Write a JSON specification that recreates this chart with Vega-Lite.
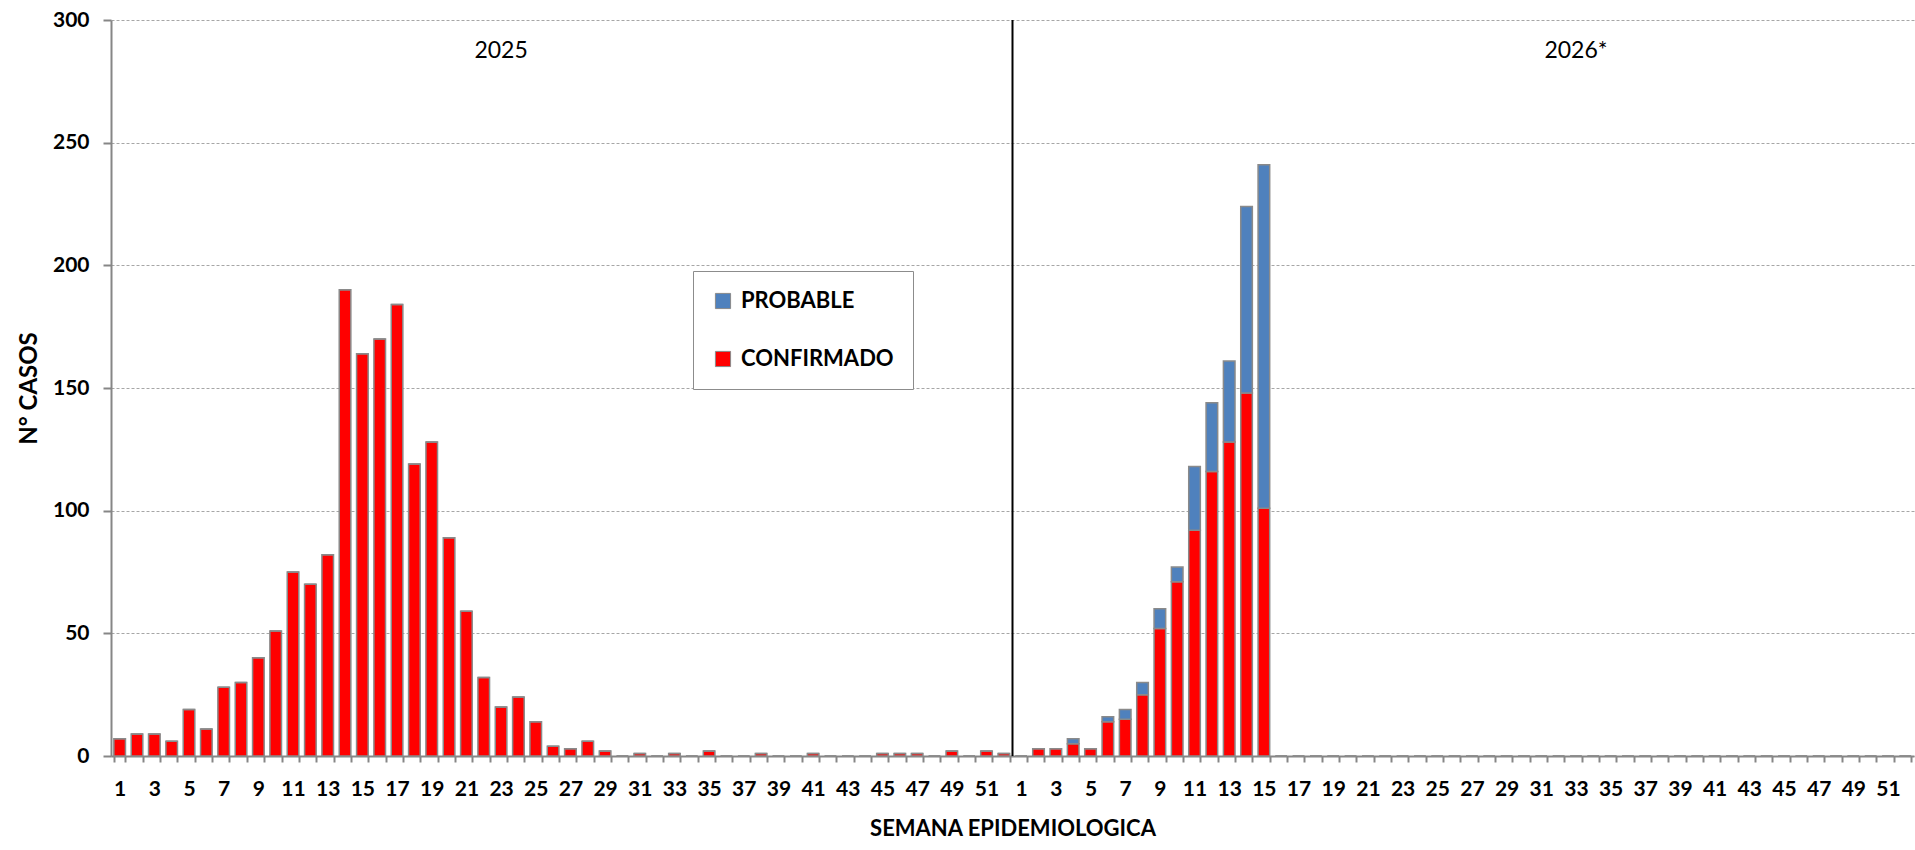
{
  "$schema": "https://vega.github.io/schema/vega-lite/v6.json",
  "width": 1803,
  "height": 736,
  "autosize": "none",
  "padding": {"left": 111, "top": 20, "right": 1, "bottom": 94},
  "background": "white",
  "config": {
    "view": {"stroke": null},
    "font": "Lato"
  },
  "datasets": {
    "semanas": [
      {"idx":1,"CONFIRMADO":7,"PROBABLE":0},{"idx":2,"CONFIRMADO":9,"PROBABLE":0},{"idx":3,"CONFIRMADO":9,"PROBABLE":0},{"idx":4,"CONFIRMADO":6,"PROBABLE":0},
      {"idx":5,"CONFIRMADO":19,"PROBABLE":0},{"idx":6,"CONFIRMADO":11,"PROBABLE":0},{"idx":7,"CONFIRMADO":28,"PROBABLE":0},{"idx":8,"CONFIRMADO":30,"PROBABLE":0},
      {"idx":9,"CONFIRMADO":40,"PROBABLE":0},{"idx":10,"CONFIRMADO":51,"PROBABLE":0},{"idx":11,"CONFIRMADO":75,"PROBABLE":0},{"idx":12,"CONFIRMADO":70,"PROBABLE":0},
      {"idx":13,"CONFIRMADO":82,"PROBABLE":0},{"idx":14,"CONFIRMADO":190,"PROBABLE":0},{"idx":15,"CONFIRMADO":164,"PROBABLE":0},{"idx":16,"CONFIRMADO":170,"PROBABLE":0},
      {"idx":17,"CONFIRMADO":184,"PROBABLE":0},{"idx":18,"CONFIRMADO":119,"PROBABLE":0},{"idx":19,"CONFIRMADO":128,"PROBABLE":0},{"idx":20,"CONFIRMADO":89,"PROBABLE":0},
      {"idx":21,"CONFIRMADO":59,"PROBABLE":0},{"idx":22,"CONFIRMADO":32,"PROBABLE":0},{"idx":23,"CONFIRMADO":20,"PROBABLE":0},{"idx":24,"CONFIRMADO":24,"PROBABLE":0},
      {"idx":25,"CONFIRMADO":14,"PROBABLE":0},{"idx":26,"CONFIRMADO":4,"PROBABLE":0},{"idx":27,"CONFIRMADO":3,"PROBABLE":0},{"idx":28,"CONFIRMADO":6,"PROBABLE":0},
      {"idx":29,"CONFIRMADO":2,"PROBABLE":0},{"idx":30,"CONFIRMADO":0,"PROBABLE":0},{"idx":31,"CONFIRMADO":1,"PROBABLE":0},{"idx":32,"CONFIRMADO":0,"PROBABLE":0},
      {"idx":33,"CONFIRMADO":1,"PROBABLE":0},{"idx":34,"CONFIRMADO":0,"PROBABLE":0},{"idx":35,"CONFIRMADO":2,"PROBABLE":0},{"idx":36,"CONFIRMADO":0,"PROBABLE":0},
      {"idx":37,"CONFIRMADO":0,"PROBABLE":0},{"idx":38,"CONFIRMADO":1,"PROBABLE":0},{"idx":39,"CONFIRMADO":0,"PROBABLE":0},{"idx":40,"CONFIRMADO":0,"PROBABLE":0},
      {"idx":41,"CONFIRMADO":1,"PROBABLE":0},{"idx":42,"CONFIRMADO":0,"PROBABLE":0},{"idx":43,"CONFIRMADO":0,"PROBABLE":0},{"idx":44,"CONFIRMADO":0,"PROBABLE":0},
      {"idx":45,"CONFIRMADO":1,"PROBABLE":0},{"idx":46,"CONFIRMADO":1,"PROBABLE":0},{"idx":47,"CONFIRMADO":1,"PROBABLE":0},{"idx":48,"CONFIRMADO":0,"PROBABLE":0},
      {"idx":49,"CONFIRMADO":2,"PROBABLE":0},{"idx":50,"CONFIRMADO":0,"PROBABLE":0},{"idx":51,"CONFIRMADO":2,"PROBABLE":0},{"idx":52,"CONFIRMADO":1,"PROBABLE":0},
      {"idx":53,"CONFIRMADO":0,"PROBABLE":0},{"idx":54,"CONFIRMADO":3,"PROBABLE":0},{"idx":55,"CONFIRMADO":3,"PROBABLE":0},{"idx":56,"CONFIRMADO":5,"PROBABLE":2},
      {"idx":57,"CONFIRMADO":3,"PROBABLE":0},{"idx":58,"CONFIRMADO":14,"PROBABLE":2},{"idx":59,"CONFIRMADO":15,"PROBABLE":4},{"idx":60,"CONFIRMADO":25,"PROBABLE":5},
      {"idx":61,"CONFIRMADO":52,"PROBABLE":8},{"idx":62,"CONFIRMADO":71,"PROBABLE":6},{"idx":63,"CONFIRMADO":92,"PROBABLE":26},{"idx":64,"CONFIRMADO":116,"PROBABLE":28},
      {"idx":65,"CONFIRMADO":128,"PROBABLE":33},{"idx":66,"CONFIRMADO":148,"PROBABLE":76},{"idx":67,"CONFIRMADO":101,"PROBABLE":140},{"idx":68,"CONFIRMADO":0,"PROBABLE":0},
      {"idx":69,"CONFIRMADO":0,"PROBABLE":0},{"idx":70,"CONFIRMADO":0,"PROBABLE":0},{"idx":71,"CONFIRMADO":0,"PROBABLE":0},{"idx":72,"CONFIRMADO":0,"PROBABLE":0},
      {"idx":73,"CONFIRMADO":0,"PROBABLE":0},{"idx":74,"CONFIRMADO":0,"PROBABLE":0},{"idx":75,"CONFIRMADO":0,"PROBABLE":0},{"idx":76,"CONFIRMADO":0,"PROBABLE":0},
      {"idx":77,"CONFIRMADO":0,"PROBABLE":0},{"idx":78,"CONFIRMADO":0,"PROBABLE":0},{"idx":79,"CONFIRMADO":0,"PROBABLE":0},{"idx":80,"CONFIRMADO":0,"PROBABLE":0},
      {"idx":81,"CONFIRMADO":0,"PROBABLE":0},{"idx":82,"CONFIRMADO":0,"PROBABLE":0},{"idx":83,"CONFIRMADO":0,"PROBABLE":0},{"idx":84,"CONFIRMADO":0,"PROBABLE":0},
      {"idx":85,"CONFIRMADO":0,"PROBABLE":0},{"idx":86,"CONFIRMADO":0,"PROBABLE":0},{"idx":87,"CONFIRMADO":0,"PROBABLE":0},{"idx":88,"CONFIRMADO":0,"PROBABLE":0},
      {"idx":89,"CONFIRMADO":0,"PROBABLE":0},{"idx":90,"CONFIRMADO":0,"PROBABLE":0},{"idx":91,"CONFIRMADO":0,"PROBABLE":0},{"idx":92,"CONFIRMADO":0,"PROBABLE":0},
      {"idx":93,"CONFIRMADO":0,"PROBABLE":0},{"idx":94,"CONFIRMADO":0,"PROBABLE":0},{"idx":95,"CONFIRMADO":0,"PROBABLE":0},{"idx":96,"CONFIRMADO":0,"PROBABLE":0},
      {"idx":97,"CONFIRMADO":0,"PROBABLE":0},{"idx":98,"CONFIRMADO":0,"PROBABLE":0},{"idx":99,"CONFIRMADO":0,"PROBABLE":0},{"idx":100,"CONFIRMADO":0,"PROBABLE":0},
      {"idx":101,"CONFIRMADO":0,"PROBABLE":0},{"idx":102,"CONFIRMADO":0,"PROBABLE":0},{"idx":103,"CONFIRMADO":0,"PROBABLE":0},{"idx":104,"CONFIRMADO":0,"PROBABLE":0}
    ]
  },
  "layer": [
    {
      "data": {"name": "semanas"},
      "transform": [{"fold": ["CONFIRMADO", "PROBABLE"], "as": ["tipo", "casos"]}],
      "mark": {"type": "bar", "stroke": "#8a8a8a", "strokeWidth": 1.5},
      "encoding": {
        "x": {
          "field": "idx", "type": "ordinal", "sort": "ascending",
          "scale": {"paddingInner": 0.33, "paddingOuter": 0.165},
          "axis": {
            "title": "SEMANA EPIDEMIOLOGICA",
            "titleFont": "Lato", "titleFontSize": 22, "titleFontWeight": "bold", "titleColor": "#000000",
            "titlePadding": 19,
            "labelExpr": "datum.value % 2 == 1 ? (datum.value > 52 ? datum.value - 52 : datum.value) : ''",
            "labelAngle": 0, "labelOverlap": false,
            "labelFont": "Lato", "labelFontSize": 21, "labelFontWeight": "bold", "labelColor": "#000000",
            "labelPadding": 16,
            "tickBand": "extent", "tickSize": 6, "tickColor": "#868686", "tickWidth": 2,
            "domainColor": "#868686", "domainWidth": 2
          }
        },
        "y": {
          "field": "casos", "type": "quantitative", "stack": "zero",
          "scale": {"domain": [0, 300], "nice": false},
          "axis": {
            "title": "N° CASOS",
            "titleFont": "Lato", "titleFontSize": 24, "titleFontWeight": "bold", "titleColor": "#000000",
            "titlePadding": 11,
            "values": [0, 50, 100, 150, 200, 250, 300],
            "labelFont": "Lato", "labelFontSize": 21, "labelFontWeight": "bold", "labelColor": "#000000",
            "labelPadding": 14,
            "tickSize": 8, "tickColor": "#868686", "tickWidth": 2,
            "domainColor": "#868686", "domainWidth": 2,
            "grid": true, "gridColor": "#a6a6a6", "gridDash": [3, 2], "gridWidth": 1
          }
        },
        "color": {
          "field": "tipo", "type": "nominal",
          "scale": {"domain": ["PROBABLE", "CONFIRMADO"], "range": ["#4F81BD", "#FF0000"]},
          "legend": {
            "title": null, "orient": "none", "legendX": 582, "legendY": 251,
            "fillColor": "#ffffff", "strokeColor": "#8c8c8c",
            "padding": 19, "rowPadding": 36,
            "symbolType": "square", "symbolSize": 230, "symbolStrokeColor": "#8a8a8a", "symbolStrokeWidth": 1,
            "labelFont": "Lato", "labelFontSize": 22, "labelFontWeight": "bold", "labelColor": "#000000",
            "labelOffset": 7
          }
        },
        "order": {"field": "tipo", "sort": "ascending"}
      }
    },
    {
      "data": {"values": [{"idx": 52}]},
      "mark": {"type": "rule", "color": "#000000", "strokeWidth": 2},
      "encoding": {
        "x": {"field": "idx", "type": "ordinal", "bandPosition": 1.246}
      }
    },
    {
      "data": {"values": [{"anio": "2025", "idx": 23}, {"anio": "2026*", "idx": 85}]},
      "mark": {"type": "text", "font": "Lato", "fontSize": 23, "color": "#000000", "baseline": "middle", "align": "center"},
      "encoding": {
        "x": {"field": "idx", "type": "ordinal"},
        "y": {"datum": 287.5, "type": "quantitative"},
        "text": {"field": "anio"}
      }
    }
  ]
}
